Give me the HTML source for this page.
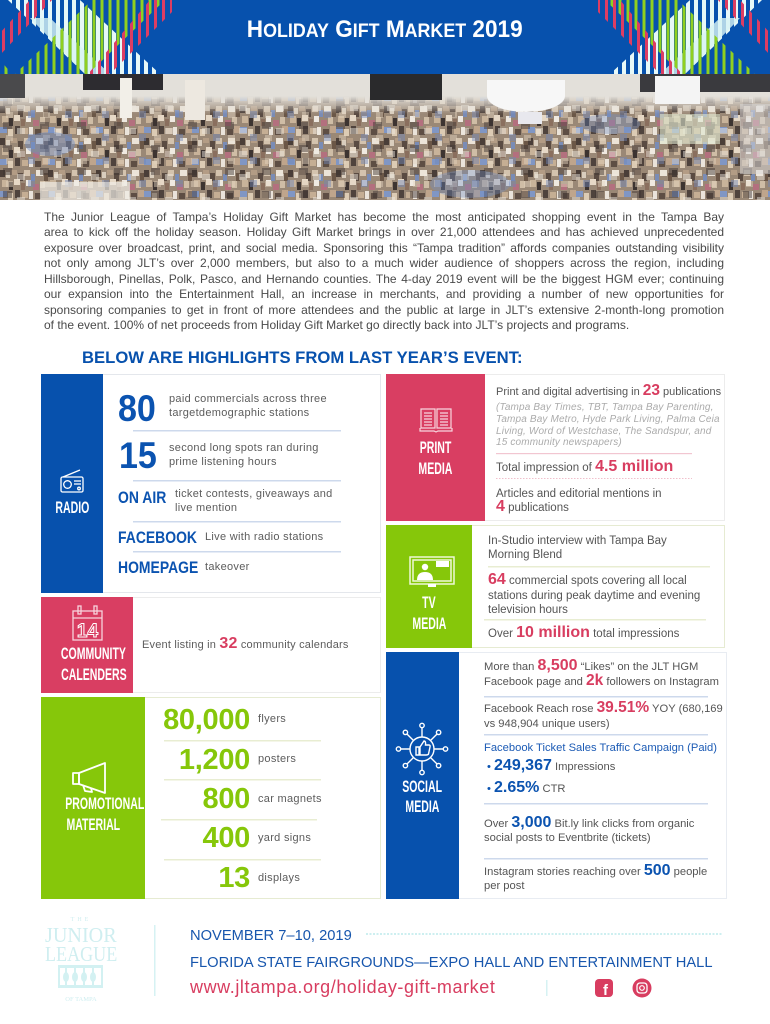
<!DOCTYPE html>
<html><head><meta charset="utf-8">
<style>
*{margin:0;padding:0;box-sizing:border-box}
body{background:#fff;width:770px;height:1024px;overflow:hidden}
#p{position:relative;width:770px;height:1024px;overflow:hidden;font-family:"Liberation Sans",Arial,sans-serif;background:#fff}
.a{position:absolute;white-space:nowrap;line-height:1}
.s{position:absolute;white-space:nowrap;font-size:11.5px;line-height:14px;color:#555}
.r{font-size:11px;letter-spacing:.3px;color:#5c5c5c}
.p11{font-size:11px}
.p112{font-size:11.2px}
.n{font-weight:bold;font-size:16px;line-height:0}
.n2{font-size:15.5px}
.pk{color:#d83d60}.bl{color:#0b53b0}.gn{color:#86c70a}
.box{position:absolute;border:1px solid #e8e8e8}
.tt{position:absolute;text-align:center;color:#fff;font-weight:bold;font-size:17px;line-height:1;white-space:nowrap}
.tt span{display:inline-block;transform:scaleX(.62)}
.cd{display:inline-block;transform-origin:0 0}
#para{position:absolute;left:44px;top:210px;width:680px;font-size:12px;line-height:15.45px;color:#4a4a4a}
#para div{text-align:justify;text-align-last:justify}
#para div.last{text-align:left;text-align-last:left}
.it{position:absolute;white-space:nowrap;font-size:10px;line-height:12px;font-style:italic;color:#ababab;letter-spacing:.15px}
.lbl{position:absolute;white-space:nowrap;line-height:1;font-weight:bold;font-size:17px;color:#0b53b0}
.num{position:absolute;white-space:nowrap;line-height:1;font-weight:bold;font-size:29px;color:#86c70a;text-align:right;right:520px;letter-spacing:-.3px}
small{font-size:19px}
</style></head><body><div id="p">

<!-- HEADER -->
<div style="position:absolute;left:0;top:0;width:770px;height:74px;background:#0751ad"></div>
<svg style="position:absolute;left:0;top:0" width="172" height="74">
<defs>
<pattern id="pw" width="8" height="74" patternUnits="userSpaceOnUse"><rect x="0" width="4" height="74" fill="#e6f8f8"/></pattern>
<pattern id="pg" width="8" height="74" patternUnits="userSpaceOnUse"><rect x="4.5" width="3" height="74" fill="#8fd020"/></pattern>
<pattern id="pr" width="8" height="74" patternUnits="userSpaceOnUse"><rect x="2" width="3" height="74" fill="#dc3d63"/></pattern>
</defs>
<rect width="172" height="74" fill="#0751ad"/>
<polygon points="8,0 80,0 160,74 85,74" fill="url(#pw)"/>
<polygon points="30,18 50,18 110,74 85,74" fill="#d8f4f4" opacity=".8"/>
<polygon points="92,0 165,0 88,74 15,74" fill="url(#pg)"/>
<polygon points="30,0 52,0 0,55 0,33" fill="url(#pr)"/>
<polygon points="150,0 172,0 172,12 110,74 88,74" fill="url(#pr)"/>
<polygon points="0,60 12,74 0,74" fill="url(#pg)"/>
</svg>
<svg style="position:absolute;left:598px;top:0;transform:scaleX(-1)" width="172" height="74">
<rect width="172" height="74" fill="#0751ad"/>
<polygon points="8,0 80,0 160,74 85,74" fill="url(#pw)"/>
<polygon points="30,18 50,18 110,74 85,74" fill="#d8f4f4" opacity=".8"/>
<polygon points="92,0 165,0 88,74 15,74" fill="url(#pg)"/>
<polygon points="30,0 52,0 0,55 0,33" fill="url(#pr)"/>
<polygon points="150,0 172,0 172,12 110,74 88,74" fill="url(#pr)"/>
</svg>
<div class="a" style="left:0;top:18px;width:770px;text-align:center;color:#fff;font-weight:bold;font-size:24px"><span style="display:inline-block;transform:scaleX(.94)">H<small>OLIDAY</small> G<small>IFT</small> M<small>ARKET</small> 2019</span></div>

<!-- PHOTO -->
<svg style="position:absolute;left:0;top:74px" width="770" height="126">
<defs>
<pattern id="cr" width="48" height="32" patternUnits="userSpaceOnUse">
<rect width="48" height="32" fill="#9a8876"/>
<rect x="0" y="0" width="5" height="7" fill="#4a3e38"/>
<rect x="6" y="2" width="4" height="6" fill="#d9cdbd"/>
<rect x="11" y="0" width="6" height="5" fill="#b39c85"/>
<rect x="18" y="3" width="5" height="8" fill="#5a4b42"/>
<rect x="24" y="0" width="6" height="6" fill="#d4c3ae"/>
<rect x="31" y="4" width="4" height="7" fill="#7a8cb5"/>
<rect x="36" y="0" width="7" height="6" fill="#ece4d8"/>
<rect x="44" y="3" width="4" height="8" fill="#6b5747"/>
<rect x="2" y="10" width="6" height="7" fill="#c8b39a"/>
<rect x="9" y="12" width="4" height="8" fill="#3d3431"/>
<rect x="14" y="9" width="6" height="6" fill="#e6d8c6"/>
<rect x="21" y="13" width="4" height="7" fill="#8a6f5e"/>
<rect x="26" y="10" width="5" height="6" fill="#efe9e1"/>
<rect x="33" y="14" width="6" height="6" fill="#b3707e"/>
<rect x="40" y="11" width="5" height="7" fill="#cfbda6"/>
<rect x="0" y="21" width="7" height="6" fill="#8096c4"/>
<rect x="8" y="23" width="5" height="7" fill="#dccbb4"/>
<rect x="15" y="20" width="5" height="8" fill="#4f433d"/>
<rect x="22" y="22" width="6" height="6" fill="#c5ae94"/>
<rect x="29" y="21" width="4" height="8" fill="#eae3da"/>
<rect x="35" y="23" width="6" height="6" fill="#5e4e44"/>
<rect x="42" y="20" width="6" height="7" fill="#bfa58c"/>
</pattern>
<pattern id="cr2" width="37" height="23" patternUnits="userSpaceOnUse">
<rect x="3" y="2" width="9" height="7" fill="#3a3230"/>
<rect x="17" y="8" width="8" height="6" fill="#f0ebe3"/>
<rect x="28" y="14" width="7" height="7" fill="#6f86b8"/>
<rect x="6" y="15" width="7" height="6" fill="#e3d4bf"/>
</pattern>
<linearGradient id="fd" x1="0" y1="0" x2="0" y2="1"><stop offset="0" stop-color="#e3e0da" stop-opacity="1"/><stop offset="1" stop-color="#e3e0da" stop-opacity="0"/></linearGradient>
</defs>
<rect width="770" height="126" fill="url(#cr)"/>
<rect width="770" height="126" fill="url(#cr2)" opacity=".45"/>
<rect width="770" height="22" fill="#e3e0da"/>
<rect y="22" width="770" height="18" fill="url(#fd)"/>
<rect x="83" y="0" width="80" height="16" fill="#2d2c30"/>
<rect x="370" y="0" width="72" height="26" fill="#2a2a2c"/>
<rect x="640" y="0" width="130" height="18" fill="#3a3a3e"/>
<rect x="655" y="2" width="45" height="28" fill="#f4f4f4"/>
<rect x="0" y="0" width="25" height="24" fill="#4a4a4c"/>
<ellipse cx="526" cy="22" rx="39" ry="16" fill="#f7f7f7"/>
<rect x="487" y="6" width="78" height="16" fill="#f7f7f7"/>
<rect x="518" y="38" width="24" height="12" fill="#e8e8ee"/>
<rect x="120" y="4" width="12" height="40" fill="#f2efe8"/>
<rect x="185" y="6" width="20" height="40" fill="#ede8e0"/>
<ellipse cx="50" cy="70" rx="25" ry="12" fill="#6f8fc8" opacity=".45"/>
<ellipse cx="470" cy="110" rx="40" ry="14" fill="#6f8fc8" opacity=".35"/>
<ellipse cx="610" cy="50" rx="30" ry="10" fill="#6f8fc8" opacity=".35"/>
<rect x="660" y="40" width="60" height="30" fill="#dfe7d0" opacity=".6"/>
<rect x="40" y="108" width="90" height="18" fill="#efece6" opacity=".7"/>
<rect x="740" y="30" width="30" height="70" fill="#d9d9dc" opacity=".5"/>
</svg>

<!-- PARAGRAPH -->
<div id="para">
<div>The Junior League of Tampa’s Holiday Gift Market has become the most anticipated shopping event in the Tampa Bay</div>
<div>area to kick off the holiday season. Holiday Gift Market brings in over 21,000 attendees and has achieved unprecedented</div>
<div>exposure over broadcast, print, and social media. Sponsoring this “Tampa tradition” affords companies outstanding visibility</div>
<div>not only among JLT’s over 2,000 members, but also to a much wider audience of shoppers across the region, including</div>
<div>Hillsborough, Pinellas, Polk, Pasco, and Hernando counties. The 4-day 2019 event will be the biggest HGM ever; continuing</div>
<div>our expansion into the Entertainment Hall, an increase in merchants, and providing a number of new opportunities for</div>
<div>sponsoring companies to get in front of more attendees and the public at large in JLT’s extensive 2-month-long promotion</div>
<div class="last">of the event. 100% of net proceeds from Holiday Gift Market go directly back into JLT’s projects and programs.</div>
</div>

<div class="a" style="left:82px;top:349px;font-weight:bold;font-size:17px;color:#0751ad"><span class="cd" style="transform:scaleX(.98)">BELOW ARE HIGHLIGHTS FROM LAST YEAR’S EVENT:</span></div>

<!-- BOXES -->
<div class="box" style="left:41px;top:374px;width:340px;height:219px;border-color:#e4e7ec"></div>
<div style="position:absolute;left:41px;top:374px;width:62px;height:219px;background:#0751ad"></div>
<div class="box" style="left:41px;top:597px;width:340px;height:96px;border-color:#ececec"></div>
<div style="position:absolute;left:41px;top:597px;width:92px;height:96px;background:#d93e62"></div>
<div class="box" style="left:41px;top:697px;width:340px;height:202px;border-color:#e6ebd2"></div>
<div style="position:absolute;left:41px;top:697px;width:104px;height:202px;background:#86c70a"></div>

<div class="box" style="left:386px;top:374px;width:339px;height:147px;border-color:#ececec"></div>
<div style="position:absolute;left:386px;top:374px;width:99px;height:147px;background:#d93e62"></div>
<div class="box" style="left:386px;top:525px;width:339px;height:123px;border-color:#e6ebd2"></div>
<div style="position:absolute;left:386px;top:525px;width:86px;height:123px;background:#86c70a"></div>
<div class="box" style="left:386px;top:652px;width:341px;height:247px;border-color:#e8ecf2"></div>
<div style="position:absolute;left:386px;top:652px;width:73px;height:247px;background:#0751ad"></div>

<!-- SIDEBAR TITLES -->
<div class="tt" style="left:41px;width:62px;top:498.7px"><span>RADIO</span></div>
<div class="tt" style="left:41px;width:92px;top:644.7px"><span>COMMUNITY</span></div>
<div class="tt" style="left:41px;width:92px;top:665.7px"><span>CALENDERS</span></div>
<div class="tt" style="left:41px;width:104px;top:794.7px"><span>PROMOTIONAL</span></div>
<div class="tt" style="left:41px;width:104px;top:815.7px"><span>MATERIAL</span></div>
<div class="tt" style="left:386px;width:99px;top:438.7px"><span>PRINT</span></div>
<div class="tt" style="left:386px;width:99px;top:459.7px"><span>MEDIA</span></div>
<div class="tt" style="left:386px;width:86px;top:593.7px"><span>TV</span></div>
<div class="tt" style="left:386px;width:86px;top:614.7px"><span>MEDIA</span></div>
<div class="tt" style="left:386px;width:73px;top:777.7px"><span>SOCIAL</span></div>
<div class="tt" style="left:386px;width:73px;top:797.7px"><span>MEDIA</span></div>

<!-- ICONS & DIVIDERS -->
<svg style="position:absolute;left:0;top:0" width="770" height="1024">
<g stroke="#fff" fill="none" stroke-width="1.3">
<rect x="61" y="477" width="22" height="15" rx="1.5"/>
<line x1="63" y1="477" x2="80" y2="470"/>
<circle cx="67.5" cy="484.5" r="3.8"/>
<line x1="74" y1="481" x2="81" y2="481"/>
<line x1="74" y1="484" x2="81" y2="484"/>
<circle cx="79" cy="488.5" r="1.3"/>
</g>
<g stroke="#f7d3dc" fill="none" stroke-width="1.3">
<rect x="73" y="611" width="29" height="29"/>
<line x1="73" y1="618" x2="102" y2="618"/>
<rect x="78" y="606" width="3" height="8"/>
<rect x="94" y="606" width="3" height="8"/>
</g>
<text x="87.5" y="637" text-anchor="middle" font-family="Liberation Sans" font-weight="bold" font-size="19" fill="none" stroke="#fff" stroke-width="1">14</text>
<g stroke="#fff" fill="none" stroke-width="1.8" stroke-linejoin="round">
<rect x="73" y="773" width="6" height="11"/>
<path d="M79 773 L105 763 L105 793 L79 784 Z"/>
<path d="M83 785 L85 791 L92 792 L91 788"/>
</g>
<g stroke="#f8d5de" fill="none" stroke-width="1.2">
<path d="M421 409 H435 V428 H421 Z M437 409 H451 V428 H437 Z"/>
<path d="M420 428 V431 H434 L436 432 L438 431 H452 V428"/>
<path d="M424 413 H432 M424 416 H432 M424 419 H432 M424 422 H432 M424 425 H432 M440 413 H448 M440 416 H448 M440 419 H448 M440 422 H448 M440 425 H448"/>
</g>
<g stroke="#eef8d8" fill="none" stroke-width="1.5">
<rect x="410" y="557" width="44" height="27"/>
<rect x="413" y="560" width="38" height="21"/>
</g>
<rect x="428" y="584" width="8" height="3" fill="#fff"/>
<circle cx="425" cy="567" r="3.2" fill="#fff"/>
<path d="M417 580 Q417 572 425 572 Q433 572 433 580 Z" fill="#fff"/>
<rect x="436" y="561" width="13" height="6" fill="#fff"/>
<g stroke="#fff" fill="none" stroke-width="1.4">
<circle cx="422" cy="749" r="12"/>
<path d="M434 749 H443 M422 761 V770 M410 749 H401 M422 737 V728 M430.5 757.5 L436.8 763.8 M413.5 757.5 L407.2 763.8 M413.5 740.5 L407.2 734.2 M430.5 740.5 L436.8 734.2"/>
<circle cx="445.5" cy="749" r="2.2"/><circle cx="422" cy="772.5" r="2.2"/><circle cx="398.5" cy="749" r="2.2"/><circle cx="422" cy="725.5" r="2.2"/>
<circle cx="438.6" cy="765.6" r="2.2"/><circle cx="405.4" cy="765.6" r="2.2"/><circle cx="405.4" cy="732.4" r="2.2"/><circle cx="438.6" cy="732.4" r="2.2"/>
<path d="M416 755 V747 H419 V755 Z M420 747 L424 741 Q426 741 425.5 745 H429 Q430.5 745 430 747 L428.5 754 Q428 755 426 755 H420 Z"/>
</g>
<g fill="#cdd9ec">
<rect x="133" y="430" width="208" height="1.5"/>
<rect x="133" y="480" width="208" height="1.5"/>
<rect x="133" y="521" width="208" height="1.5"/>
<rect x="133" y="551" width="208" height="1.5"/>
</g>
<g fill="#e8edd2">
<rect x="164" y="740" width="157" height="1.5"/>
<rect x="164" y="779" width="157" height="1.5"/>
<rect x="161" y="819" width="156" height="1.5"/>
<rect x="164" y="859" width="157" height="1.5"/>
</g>
<rect x="496" y="453" width="196" height="1.2" fill="#f2c6d1"/>
<line x1="496" y1="478.5" x2="692" y2="478.5" stroke="#f0c0cc" stroke-width="1" stroke-dasharray="1.5,1.5"/>
<rect x="488" y="566" width="222" height="1.5" fill="#e8edd2"/>
<rect x="484" y="619" width="222" height="1.5" fill="#e8edd2"/>
<g fill="#cdd9ec">
<rect x="484" y="696" width="224" height="1.5"/>
<rect x="484" y="734" width="224" height="1.5"/>
<rect x="484" y="803" width="224" height="1.5"/>
<rect x="484" y="858" width="224" height="1.5"/>
</g>
<rect x="154" y="925" width="1.5" height="71" fill="#d6f2f3"/>
<line x1="366" y1="934" x2="722" y2="934" stroke="#cdeff0" stroke-width="2" stroke-dasharray="2,1.5"/>
<rect x="546" y="980" width="1.5" height="16" fill="#d6f2f3"/>
<g fill="#d3f1f2">
<rect x="58" y="965" width="45" height="3"/>
<rect x="58" y="985" width="45" height="3"/>
<rect x="58" y="968" width="2" height="17"/>
<rect x="101" y="968" width="2" height="17"/>
<ellipse cx="66" cy="977" rx="3" ry="5"/><rect x="65" y="968" width="2" height="17"/>
<ellipse cx="75" cy="977" rx="3" ry="5"/><rect x="74" y="968" width="2" height="17"/>
<ellipse cx="84" cy="977" rx="3" ry="5"/><rect x="83" y="968" width="2" height="17"/>
<ellipse cx="93" cy="977" rx="3" ry="5"/><rect x="92" y="968" width="2" height="17"/>
</g>
<rect x="595" y="979" width="18" height="18" rx="4" fill="#d83d60"/>
<text x="605.5" y="995" text-anchor="middle" font-family="Liberation Sans" font-weight="bold" font-size="15" fill="#fff">f</text>
<circle cx="642" cy="988" r="9.5" fill="#d83d60"/>
<rect x="637" y="983" width="10" height="10" rx="3" fill="none" stroke="#fff" stroke-width="1.3"/>
<circle cx="642" cy="988" r="2.3" fill="none" stroke="#fff" stroke-width="1.2"/>
</svg>

<!-- RADIO CONTENT -->
<div class="a" style="left:118px;top:390.4px;font-weight:bold;font-size:37px;color:#0b53b0"><span class="cd" style="transform:scaleX(.92)">80</span></div>
<div class="a" style="left:119px;top:436.9px;font-weight:bold;font-size:37px;color:#0b53b0"><span class="cd" style="transform:scaleX(.92)">15</span></div>
<div class="s r" style="left:169px;top:392px">paid commercials across three</div>
<div class="s r" style="left:169px;top:406px">targetdemographic stations</div>
<div class="s r" style="left:169px;top:441px">second long spots ran during</div>
<div class="s r" style="left:169px;top:455px">prime listening hours</div>
<div class="lbl" style="left:118px;top:488.7px"><span class="cd" style="transform:scaleX(.82)">ON AIR</span></div>
<div class="s r" style="left:175px;top:487px">ticket contests, giveaways and</div>
<div class="s r" style="left:175px;top:501px">live mention</div>
<div class="lbl" style="left:118px;top:528.7px"><span class="cd" style="transform:scaleX(.82)">FACEBOOK</span></div>
<div class="s r" style="left:205px;top:530px">Live with radio stations</div>
<div class="lbl" style="left:118px;top:558.7px"><span class="cd" style="transform:scaleX(.82)">HOMEPAGE</span></div>
<div class="s r" style="left:205px;top:560px">takeover</div>

<!-- COMMUNITY -->
<div class="s r" style="left:142px;top:638px;letter-spacing:.2px">Event listing in <span class="n pk">32</span> community calendars</div>

<!-- PROMO -->
<div class="num" style="top:705.8px">80,000</div>
<div class="num" style="top:745.8px">1,200</div>
<div class="num" style="top:784.8px">800</div>
<div class="num" style="top:823.8px">400</div>
<div class="num" style="top:863.8px">13</div>
<div class="s r" style="left:258px;top:712px">flyers</div>
<div class="s r" style="left:258px;top:752px">posters</div>
<div class="s r" style="left:258px;top:792px">car magnets</div>
<div class="s r" style="left:258px;top:831px">yard signs</div>
<div class="s r" style="left:258px;top:871px">displays</div>

<!-- PRINT -->
<div class="s p11" style="left:496px;top:385px">Print and digital advertising in <span class="n n2 pk">23</span> publications</div>
<div class="it" style="left:496px;top:402px">(Tampa Bay Times, TBT, Tampa Bay Parenting,</div>
<div class="it" style="left:496px;top:414px">Tampa Bay Metro, Hyde Park Living, Palma Ceia</div>
<div class="it" style="left:496px;top:426px">Living, Word of Westchase, The Sandspur, and</div>
<div class="it" style="left:496px;top:437px">15 community newspapers)</div>
<div class="s" style="left:496px;top:461px">Total impression of <span class="n pk">4.5 million</span></div>
<div class="s" style="left:496px;top:487px">Articles and editorial mentions in</div>
<div class="s" style="left:496px;top:501px"><span class="n pk">4</span> publications</div>

<!-- TV -->
<div class="s" style="left:488px;top:534px">In-Studio interview with Tampa Bay</div>
<div class="s" style="left:488px;top:548px">Morning Blend</div>
<div class="s" style="left:488px;top:574px"><span class="n pk">64</span> commercial spots covering all local</div>
<div class="s" style="left:488px;top:589px">stations during peak daytime and evening</div>
<div class="s" style="left:488px;top:603px">television hours</div>
<div class="s" style="left:488px;top:627px">Over <span class="n pk">10 million</span> total impressions</div>

<!-- SOCIAL -->
<div class="s p112" style="left:484px;top:660px">More than <span class="n pk">8,500</span> “Likes” on the JLT HGM</div>
<div class="s p112" style="left:484px;top:675px">Facebook page and <span class="n n2 pk">2k</span> followers on Instagram</div>
<div class="s p112" style="left:484px;top:702px">Facebook Reach rose <span class="n n2 pk">39.51%</span> YOY (680,169</div>
<div class="s p112" style="left:484px;top:717px">vs 948,904 unique users)</div>
<div class="s p112" style="left:484px;top:741px;color:#1c5bb5">Facebook Ticket Sales Traffic Campaign (Paid)</div>
<div class="s p112" style="left:487px;top:760px"><span style="color:#0b53b0">•</span> <span class="n bl">249,367</span> Impressions</div>
<div class="s p112" style="left:487px;top:782px"><span style="color:#0b53b0">•</span> <span class="n bl">2.65%</span> CTR</div>
<div class="s p112" style="left:484px;top:817px">Over <span class="n bl">3,000</span> Bit.ly link clicks from organic</div>
<div class="s p112" style="left:484px;top:831px">social posts to Eventbrite (tickets)</div>
<div class="s p112" style="left:484px;top:865px">Instagram stories reaching over <span class="n bl">500</span> people</div>
<div class="s p112" style="left:484px;top:879px">per post</div>

<!-- FOOTER -->
<div class="a" style="left:45px;top:917px;width:72px;text-align:center;font-family:'Liberation Serif',serif;font-size:6px;letter-spacing:3px;color:#cfeef0">THE</div>
<div class="a" style="left:45px;top:925px;font-family:'Liberation Serif',serif;font-size:21px;color:#cfeef0"><span class="cd" style="transform:scaleX(.96)">JUNIOR</span></div>
<div class="a" style="left:45px;top:944px;font-family:'Liberation Serif',serif;font-size:21px;color:#cfeef0"><span class="cd" style="transform:scaleX(.86)">LEAGUE</span></div>
<div class="a" style="left:58px;top:997px;width:46px;text-align:center;font-family:'Liberation Serif',serif;font-size:6.5px;color:#cfeef0">OF TAMPA</div>

<div class="a" style="left:190px;top:927.6px;font-size:15px;color:#1756ad"><span class="cd" style="transform:scaleX(.98)">NOVEMBER 7–10, 2019</span></div>
<div class="a" style="left:190px;top:954.6px;font-size:15px;color:#1756ad"><span class="cd" style="transform:scaleX(.98)">FLORIDA STATE FAIRGROUNDS—EXPO HALL AND ENTERTAINMENT HALL</span></div>
<div class="a" style="left:190px;top:977.8px;font-size:18px;letter-spacing:.58px;color:#d83d60">www.jltampa.org/holiday-gift-market</div>

</div></body></html>
